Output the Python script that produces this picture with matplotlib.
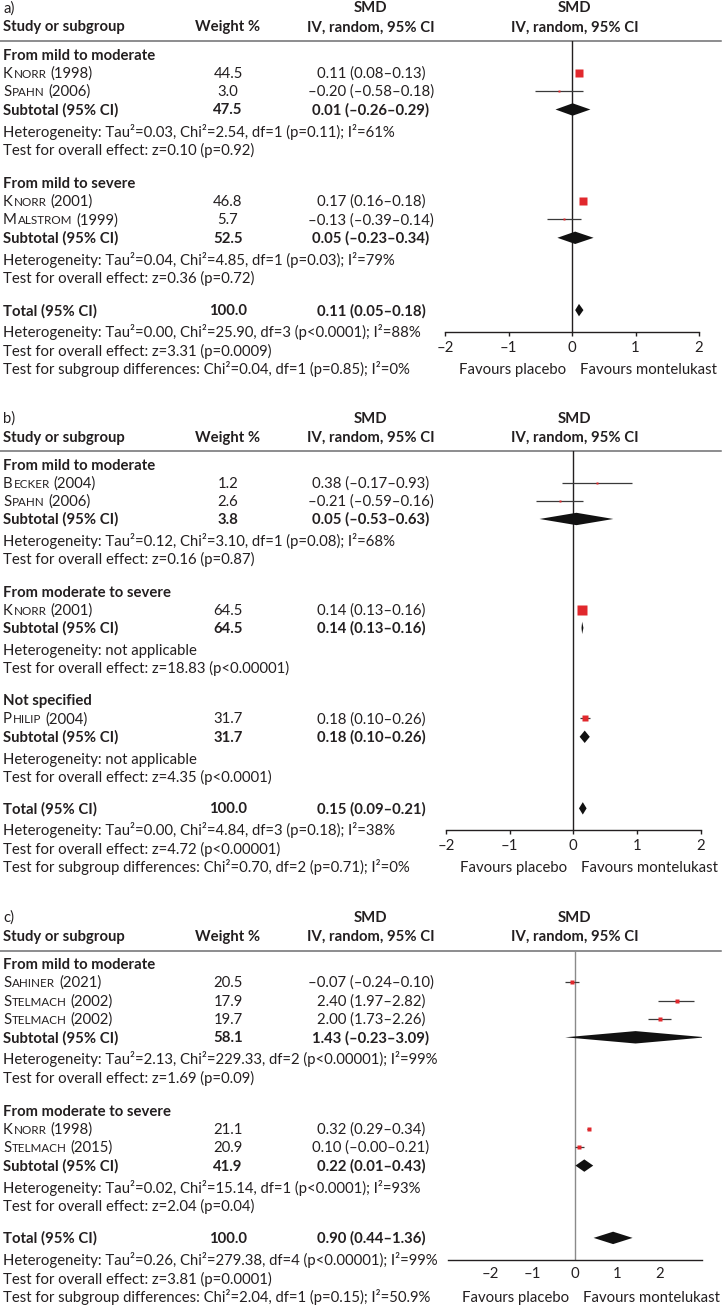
import matplotlib
matplotlib.use("Agg")
import matplotlib.pyplot as plt
import matplotlib.transforms as mtransforms
from matplotlib.patches import Polygon

plt.rcParams['font.family'] = ['Lato', 'DejaVu Sans']

W, H = 723, 1305
FS = 10.7        # base font size (pt)
SC = 0.78        # small-caps scale
BASE = 5         # px from row centre to baseline
TXT = "#231f20"
RED = "#e1282d"

# ── Panel a ───────────────────────────────────────────────────────────────────
a_groups = ["From mild to moderate", "From mild to severe"]
a_study = ["Knorr", "Spahn", "Knorr", "Malstrom"]
a_year = ["1998", "2006", "2001", "1999"]
a_group = [0, 0, 1, 1]
a_weight = [44.5, 3.0, 46.8, 5.7]
a_smd = [0.11, -0.20, 0.17, -0.13]
a_lo = [0.08, -0.58, 0.16, -0.39]
a_hi = [0.13, 0.18, 0.18, 0.14]
a_sub_weight = [47.5, 52.5]
a_sub_smd = [0.01, 0.05]
a_sub_lo = [-0.26, -0.23]
a_sub_hi = [0.29, 0.34]
a_sub_het = ["Heterogeneity: Tau²=0.03, Chi²=2.54, df=1 (p=0.11); I²=61%",
             "Heterogeneity: Tau²=0.04, Chi²=4.85, df=1 (p=0.03); I²=79%"]
a_sub_z = ["Test for overall effect: z=0.10 (p=0.92)",
           "Test for overall effect: z=0.36 (p=0.72)"]
a_total = [100.0, 0.11, 0.05, 0.18]
a_total_text = ["Heterogeneity: Tau²=0.00, Chi²=25.90, df=3 (p<0.0001); I²=88%",
                "Test for overall effect: z=3.31 (p=0.0009)",
                "Test for subgroup differences: Chi²=0.04, df=1 (p=0.85); I²=0%"]

# ── Panel b ───────────────────────────────────────────────────────────────────
b_groups = ["From mild to moderate", "From moderate to severe", "Not specified"]
b_study = ["Becker", "Spahn", "Knorr", "Philip"]
b_year = ["2004", "2006", "2001", "2004"]
b_group = [0, 0, 1, 2]
b_weight = [1.2, 2.6, 64.5, 31.7]
b_smd = [0.38, -0.21, 0.14, 0.18]
b_lo = [-0.17, -0.59, 0.13, 0.10]
b_hi = [0.93, 0.16, 0.16, 0.26]
b_sub_weight = [3.8, 64.5, 31.7]
b_sub_smd = [0.05, 0.14, 0.18]
b_sub_lo = [-0.53, 0.13, 0.10]
b_sub_hi = [0.63, 0.16, 0.26]
b_sub_het = ["Heterogeneity: Tau²=0.12, Chi²=3.10, df=1 (p=0.08); I²=68%",
             "Heterogeneity: not applicable",
             "Heterogeneity: not applicable"]
b_sub_z = ["Test for overall effect: z=0.16 (p=0.87)",
           "Test for overall effect: z=18.83 (p<0.00001)",
           "Test for overall effect: z=4.35 (p<0.0001)"]
b_total = [100.0, 0.15, 0.09, 0.21]
b_total_text = ["Heterogeneity: Tau²=0.00, Chi²=4.84, df=3 (p=0.18); I²=38%",
                "Test for overall effect: z=4.72 (p<0.00001)",
                "Test for subgroup differences: Chi²=0.70, df=2 (p=0.71); I²=0%"]

# ── Panel c ───────────────────────────────────────────────────────────────────
c_groups = ["From mild to moderate", "From moderate to severe"]
c_study = ["Sahiner", "Stelmach", "Stelmach", "Knorr", "Stelmach"]
c_year = ["2021", "2002", "2002", "1998", "2015"]
c_group = [0, 0, 0, 1, 1]
c_weight = [20.5, 17.9, 19.7, 21.1, 20.9]
c_smd = [-0.07, 2.40, 2.00, 0.32, 0.10]
c_lo = [-0.24, 1.97, 1.73, 0.29, -0.0]
c_hi = [0.10, 2.82, 2.26, 0.34, 0.21]
c_sub_weight = [58.1, 41.9]
c_sub_smd = [1.43, 0.22]
c_sub_lo = [-0.23, 0.01]
c_sub_hi = [3.09, 0.43]
c_sub_het = ["Heterogeneity: Tau²=2.13, Chi²=229.33, df=2 (p<0.00001); I²=99%",
             "Heterogeneity: Tau²=0.02, Chi²=15.14, df=1 (p<0.0001); I²=93%"]
c_sub_z = ["Test for overall effect: z=1.69 (p=0.09)",
           "Test for overall effect: z=2.04 (p=0.04)"]
c_total = [100.0, 0.90, 0.44, 1.36]
c_total_text = ["Heterogeneity: Tau²=0.26, Chi²=279.38, df=4 (p<0.00001); I²=99%",
                "Test for overall effect: z=3.81 (p=0.0001)",
                "Test for subgroup differences: Chi²=2.04, df=1 (p=0.15); I²=50.9%"]

ticks = [-2, -1, 0, 1, 2]


def fmt(v):
    return f"{v:.2f}".replace("-", "–")


def ci_text(est, lo, hi):
    return f"{fmt(est)} ({fmt(lo)}–{fmt(hi)})"


fig = plt.figure(figsize=(W / 100, H / 100), dpi=100)
canvas = fig.add_axes([0, 0, 1, 1])
canvas.set_xlim(0, W)
canvas.set_ylim(H, 0)
canvas.axis("off")
renderer = fig.canvas.get_renderer()


def put(x, y, s, bold=False, ha="left", size=FS):
    return canvas.text(x, y + BASE, s, ha=ha, va="baseline", fontsize=size,
                       fontweight="bold" if bold else "normal", color=TXT)


def study_label(x, y, name, year):
    # fake small caps: first letter full size, rest as smaller capitals
    t = put(x, y, name[0])
    x += t.get_window_extent(renderer).width + 0.8
    t = put(x, y, name[1:].upper(), size=FS * SC)
    x += t.get_window_extent(renderer).width + 4.0
    put(x, y, f"({year})")


def layout(top, sizes, k):
    pos = {"smd": top, "head": top + 19 * k, "line": top + 33.5 * k}
    y = pos["line"] + 13.5 * k
    groups = []
    for gi, n in enumerate(sizes):
        if gi > 0:
            y += 33 * k
        g = {"title": y, "studies": []}
        y += 18.2 * k
        for i in range(n):
            if i > 0:
                y += 18.3 * k
            g["studies"].append(y)
        y += 18.5 * k
        g["sub"] = y
        y += 22 * k
        g["het"] = y
        y += 18.3 * k
        g["z"] = y
        groups.append(g)
    y += 32 * k
    pos["total"] = y
    pos["total_text"] = [y + 22.3 * k, y + 40.8 * k, y + 59.1 * k]
    pos["groups"] = groups
    return pos


def draw_panel(label, top, k, groups, study, year, group, weight, smd, lo, hi,
               sub_weight, sub_smd, sub_lo, sub_hi, sub_het, sub_z,
               total, total_text, plot_x, xlim, vcolor, tick_len, msc):
    sizes = [group.count(g) for g in range(len(groups))]
    pos = layout(top, sizes, k)
    col_w, col_ci, col_plot = 228, 371, 575

    # header
    put(3, pos["smd"], label)
    put(col_ci, pos["smd"], "SMD", bold=True, ha="center")
    put(col_plot, pos["smd"], "SMD", bold=True, ha="center")
    put(3, pos["head"], "Study or subgroup", bold=True)
    put(col_w, pos["head"], "Weight %", bold=True, ha="center")
    put(col_ci, pos["head"], "IV, random, 95% CI", bold=True, ha="center")
    put(col_plot, pos["head"], "IV, random, 95% CI", bold=True, ha="center")
    canvas.plot([0, 721], [pos["line"], pos["line"]], color="#6d6e70", lw=1.1)

    # forest axes (y in pixel rows)
    bottom = pos["total_text"][0] - 0.5
    x0, x1 = plot_x
    ax = fig.add_axes([x0 / W, 1 - bottom / H, (x1 - x0) / W, (bottom - pos["line"]) / H])
    ax.set_xlim(*xlim)
    ax.set_ylim(bottom, pos["line"])
    ax.patch.set_visible(False)
    for s in ("top", "right", "left"):
        ax.spines[s].set_visible(False)
    ax.spines["bottom"].set_color("#231f20")
    ax.spines["bottom"].set_linewidth(1.0)
    ax.set_yticks([])
    ax.set_xticks(ticks)
    ax.set_xticklabels([str(t).replace("-", "–") for t in ticks])
    ax.tick_params(axis="x", length=tick_len, width=1.0, color="#231f20",
                   pad=4 if tick_len else 5.5, labelsize=FS, labelcolor=TXT)
    ax.axvline(0, color=vcolor, lw=1.0, zorder=1)

    def diamond(y, est, l, h, hh=6.2):
        ax.add_patch(Polygon([(l, y), (est, y - hh), (h, y), (est, y + hh)],
                             closed=True, facecolor="#111111", edgecolor="none", zorder=3))

    idx = 0
    for gi, g in enumerate(pos["groups"]):
        put(3, g["title"], groups[gi], bold=True)
        for y in g["studies"]:
            study_label(3, y, study[idx], year[idx])
            put(col_w, y, f"{weight[idx]:.1f}", ha="center")
            put(col_ci, y, ci_text(smd[idx], lo[idx], hi[idx]), ha="center")
            ax.hlines(y, lo[idx], hi[idx], color="#3a3a3a", lw=0.9, zorder=2)
            side = max(msc * weight[idx] ** 0.5, 2.2)
            ax.plot(smd[idx], y, marker="s", ms=side * 0.72, color=RED,
                    mec="none", zorder=4)
            idx += 1
        put(3, g["sub"], "Subtotal (95% CI)", bold=True)
        put(col_w, g["sub"], f"{sub_weight[gi]:.1f}", bold=True, ha="center")
        put(col_ci, g["sub"], ci_text(sub_smd[gi], sub_lo[gi], sub_hi[gi]),
            bold=True, ha="center")
        diamond(g["sub"], sub_smd[gi], sub_lo[gi], sub_hi[gi])
        put(3, g["het"], sub_het[gi])
        put(3, g["z"], sub_z[gi])

    put(3, pos["total"], "Total (95% CI)", bold=True)
    put(col_w, pos["total"], f"{total[0]:.1f}", bold=True, ha="center")
    put(col_ci, pos["total"], ci_text(*total[1:]), bold=True, ha="center")
    diamond(pos["total"], *total[1:])
    for y, s in zip(pos["total_text"], total_text):
        put(3, y, s)

    # favours labels, offset from the zero line
    yf = pos["total_text"][2] + BASE
    left = mtransforms.offset_copy(ax.transData, fig=fig, x=-6 * 0.72, y=0, units="points")
    right = mtransforms.offset_copy(ax.transData, fig=fig, x=8 * 0.72, y=0, units="points")
    ax.text(0, yf, "Favours placebo", transform=left, ha="right", va="baseline",
            fontsize=FS, color=TXT, clip_on=False)
    ax.text(0, yf, "Favours montelukast", transform=right, ha="left", va="baseline",
            fontsize=FS, color=TXT, clip_on=False)


draw_panel("a)", 7.5, 1.0, a_groups, a_study, a_year, a_group, a_weight, a_smd,
           a_lo, a_hi, a_sub_weight, a_sub_smd, a_sub_lo, a_sub_hi, a_sub_het,
           a_sub_z, a_total, a_total_text, (445, 699), (-2, 2), "#231f20", 4 * 0.72, 1.2)
draw_panel("b)", 418, 0.99, b_groups, b_study, b_year, b_group, b_weight, b_smd,
           b_lo, b_hi, b_sub_weight, b_sub_smd, b_sub_lo, b_sub_hi, b_sub_het,
           b_sub_z, b_total, b_total_text, (446, 700.5), (-2, 2), "#231f20", 4 * 0.72, 1.2)
draw_panel("c)", 917, 1.0, c_groups, c_study, c_year, c_group, c_weight, c_smd,
           c_lo, c_hi, c_sub_weight, c_sub_smd, c_sub_lo, c_sub_hi, c_sub_het,
           c_sub_z, c_total, c_total_text, (448, 702), (-3, 3), "#8a8a8a", 0, 0.95)

fig.savefig("out.png", dpi=100)
